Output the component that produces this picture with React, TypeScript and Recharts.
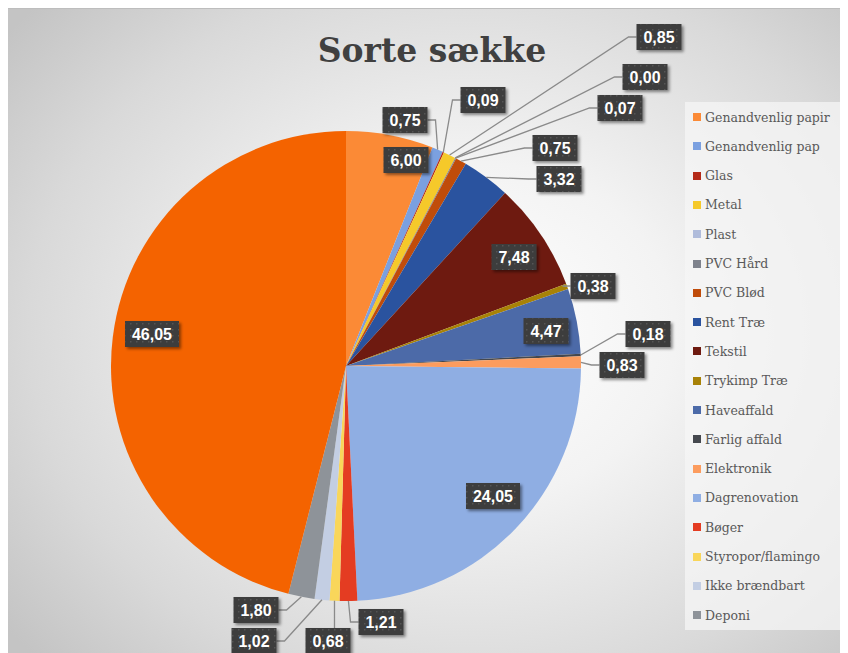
import React from 'react';
import { PieChart, Pie, Cell } from 'recharts';

// Waste fractions (percent) in the black bags
const categories = [
  'Genandvenlig papir',
  'Genandvenlig pap',
  'Glas',
  'Metal',
  'Plast',
  'PVC Hård',
  'PVC Blød',
  'Rent Træ',
  'Tekstil',
  'Trykimp Træ',
  'Haveaffald',
  'Farlig affald',
  'Elektronik',
  'Dagrenovation',
  'Bøger',
  'Styropor/flamingo',
  'Ikke brændbart',
  'Deponi',
  'Rest',
];

const values = [
  6.0, 0.75, 0.09, 0.85, 0.0, 0.07, 0.75, 3.32, 7.48, 0.38, 4.47, 0.18, 0.83, 24.05, 1.21, 0.68, 1.02, 1.8, 46.05,
];

const COLORS = [
  '#FB8A36',
  '#7BA0E0',
  '#B42A18',
  '#F5C92A',
  '#B0BCDB',
  '#7E828C',
  '#C04C0A',
  '#2A539F',
  '#6E1A10',
  '#A88207',
  '#4C6AA8',
  '#45484E',
  '#FC9C5E',
  '#8FAEE3',
  '#E43C22',
  '#F9D65A',
  '#C3CEE3',
  '#8E9399',
  '#F46300',
];

// only the first 18 are listed in the legend
const LEGEND_COUNT = 18;

const data = categories.map((name, i) => ({ name, value: values[i] }));

// label box placement relative to pie centre: [dx, dy, hasLeader]
const LABEL_LAYOUT: [number, number, boolean][] = [
  [60, -206, false],
  [59, -246, true],
  [137, -266, true],
  [313, -329, true],
  [299, -289, true],
  [274, -258, true],
  [209, -218, true],
  [213, -187, true],
  [168, -109, false],
  [247, -80, true],
  [200, -35, false],
  [302, -32, true],
  [276, -1, true],
  [147, 130, false],
  [35, 256, true],
  [-18, 275, true],
  [-92, 275, true],
  [-90, 244, true],
  [-194, -32, false],
];

const RADIAN = Math.PI / 180;
const FONT_SIZE = 16;
const BOX_H = 26;

const renderLabel = (props: any) => {
  const { cx, cy, midAngle, outerRadius, index, value } = props;
  const [dx, dy, leader] = LABEL_LAYOUT[index];
  const text = value.toFixed(2).replace('.', ',');
  const digits = text.replace(',', '').length;
  const w = Math.round((digits * 0.556 + 0.278) * FONT_SIZE + 14);
  const bx = cx + dx;
  const by = cy + dy;
  const left = bx - w / 2;
  const right = bx + w / 2;

  let line = null;
  if (leader) {
    const px = cx + outerRadius * Math.cos(-midAngle * RADIAN);
    const py = cy + outerRadius * Math.sin(-midAngle * RADIAN);
    let pts: string;
    if (left > px) {
      pts = `${px},${py} ${left - 8},${by} ${left},${by}`;
    } else if (right < px) {
      pts = `${px},${py} ${right + 8},${by} ${right},${by}`;
    } else if (by > py) {
      pts = `${px},${py} ${px},${by - BOX_H / 2}`;
    } else {
      pts = `${px},${py} ${px},${by + BOX_H / 2}`;
    }
    line = <polyline points={pts} fill="none" stroke="#8a8a8a" strokeWidth={1.3} />;
  }

  return (
    <g key={`lbl-${index}`}>
      {line}
      <rect
        x={left}
        y={by - BOX_H / 2}
        width={w}
        height={BOX_H}
        fill="url(#dotPattern)"
        filter="url(#boxShadow)"
      />
      <text
        x={bx}
        y={by}
        textAnchor="middle"
        dominantBaseline="central"
        fill="#ffffff"
        fontFamily="'Liberation Sans', Arial, sans-serif"
        fontWeight="bold"
        fontSize={FONT_SIZE}
      >
        {text}
      </text>
    </g>
  );
};

export default function App() {
  return (
    <div
      style={{
        position: 'relative',
        width: 840,
        height: 645,
        background: 'radial-gradient(ellipse 70% 75% at 55% 50%, #ffffff 0%, #f3f3f3 35%, #d9d9d9 75%, #c4c4c4 100%)',
        borderTop: '1px solid #bdbdbd',
        boxSizing: 'border-box',
        overflow: 'hidden',
      }}
    >
      <div
        style={{
          position: 'absolute',
          left: 0,
          width: 848,
          top: 22,
          textAlign: 'center',
          fontFamily: "'DejaVu Serif', serif",
          fontWeight: 'bold',
          fontSize: 33,
          color: '#404040',
        }}
      >
        Sorte sække
      </div>

      <PieChart width={840} height={645} style={{ position: 'absolute', left: 0, top: 0 }}>
        <defs>
          <pattern id="dotPattern" width="6" height="6" patternUnits="userSpaceOnUse">
            <rect width="6" height="6" fill="#3d3d3d" />
            <rect x="2" y="2" width="1.5" height="1.5" fill="#555555" />
          </pattern>
          <filter id="boxShadow" x="-20%" y="-20%" width="150%" height="160%">
            <feDropShadow dx="2" dy="2" stdDeviation="1.5" floodColor="#000" floodOpacity="0.45" />
          </filter>
        </defs>
        <Pie
          data={data}
          dataKey="value"
          nameKey="name"
          cx={333}
          cy={352}
          outerRadius={235}
          startAngle={90}
          endAngle={-270}
          stroke="none"
          label={renderLabel}
          labelLine={false}
          isAnimationActive={false}
        >
          {data.map((entry, index) => (
            <Cell key={`cell-${index}`} fill={COLORS[index]} />
          ))}
        </Pie>
      </PieChart>

      {/* Legend */}
      <div
        style={{
          position: 'absolute',
          left: 677,
          top: 93,
          width: 163,
          height: 528,
          background: 'rgba(245,245,245,0.75)',
        }}
      >
        {categories.slice(0, LEGEND_COUNT).map((name, index) => (
          <div
            key={name}
            style={{
              position: 'absolute',
              left: 8,
              top: 15 + index * 29.3 - 9,
              height: 18,
              display: 'flex',
              alignItems: 'center',
              whiteSpace: 'nowrap',
            }}
          >
            <div style={{ width: 8, height: 8, backgroundColor: COLORS[index], marginRight: 4 }} />
            <span
              style={{
                fontFamily: "'DejaVu Serif', serif",
                fontSize: 12.5,
                color: '#595959',
              }}
            >
              {name}
            </span>
          </div>
        ))}
      </div>
    </div>
  );
}
